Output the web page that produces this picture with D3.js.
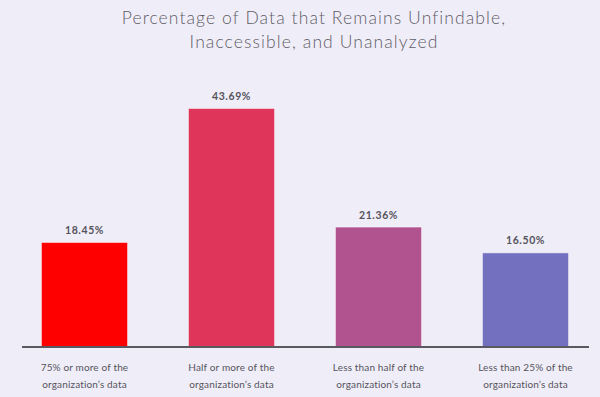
<!DOCTYPE html>
<html>
<head>
<meta charset="utf-8">
<script src="https://cdn.jsdelivr.net/npm/d3@7"></script>
<style>
  html, body { margin: 0; padding: 0; background: #efedf8; }
  text { font-family: Lato, "Open Sans", sans-serif; }
  .title { font-size: 17.5px; font-weight: 300; fill: #5f5d66; letter-spacing: 1.1px; }
  .value { font-size: 10.5px; font-weight: 700; fill: #55545c; letter-spacing: 0.6px; }
  .xlabel { font-size: 10px; fill: #55545c; letter-spacing: 0.15px; }
</style>
</head>
<body>
<div id="chart"></div>
<script>
const w = 600;
const h = 397;
const titleLines = ["Percentage of Data that Remains Unfindable,", "Inaccessible, and Unanalyzed"];
const categories = ["75% or more of the|organization\u2019s data", "Half or more of the|organization\u2019s data",
                    "Less than half of the|organization\u2019s data", "Less than 25% of the|organization\u2019s data"];
const values = [18.45, 43.69, 21.36, 16.50];
const colors = ["#fe0000", "#df355a", "#b0538f", "#7470c0"];

const axisY = 347;

let svg = d3.select("#chart")
    .append("svg")
    .attr("width", w)
    .attr("height", h);

svg.append("rect")
    .attr("width", w)
    .attr("height", h)
    .attr("fill", "#efedf8");

var x = d3.scaleBand()
    .domain(categories)
    .range([11, 599])
    .paddingInner(0.408)
    .paddingOuter(0.204);

var y = d3.scaleLinear()
    .domain([0, 50])
    .range([340, 74.5]);

// title
svg.selectAll(".title")
    .data(titleLines)
    .enter()
    .append("text")
    .attr("class", "title")
    .attr("text-anchor", "middle")
    .attr("x", 314)
    .attr("y", (d, i) => 24 + i * 23.5)
    .text(d => d);

// bars
svg.selectAll(".bar")
    .data(values)
    .enter()
    .append("rect")
    .attr("class", "bar")
    .attr("x", (d, i) => x(categories[i]) + 0.5)
    .attr("y", d => y(d) + 0.5)
    .attr("width", x.bandwidth() - 1)
    .attr("height", d => axisY - y(d))
    .attr("fill", (d, i) => colors[i])
    .attr("stroke", "#ffffff")
    .attr("stroke-opacity", 0.45)
    .attr("stroke-width", 1);

// value labels
svg.selectAll(".value")
    .data(values)
    .enter()
    .append("text")
    .attr("class", "value")
    .attr("text-anchor", "middle")
    .attr("x", (d, i) => x(categories[i]) + x.bandwidth() / 2)
    .attr("y", d => y(d) - 8)
    .text(d => d.toFixed(2) + "%");

// axis line
svg.append("line")
    .attr("x1", 22)
    .attr("x2", 589)
    .attr("y1", axisY)
    .attr("y2", axisY)
    .attr("stroke", "#5a5960")
    .attr("stroke-width", 2);

// category labels (two lines each)
categories.forEach(function(c) {
    c.split("|").forEach(function(line, j) {
        svg.append("text")
            .attr("class", "xlabel")
            .attr("text-anchor", "middle")
            .attr("x", x(c) + x.bandwidth() / 2)
            .attr("y", 370.5 + j * 17)
            .text(line);
    });
});
</script>
</body>
</html>
